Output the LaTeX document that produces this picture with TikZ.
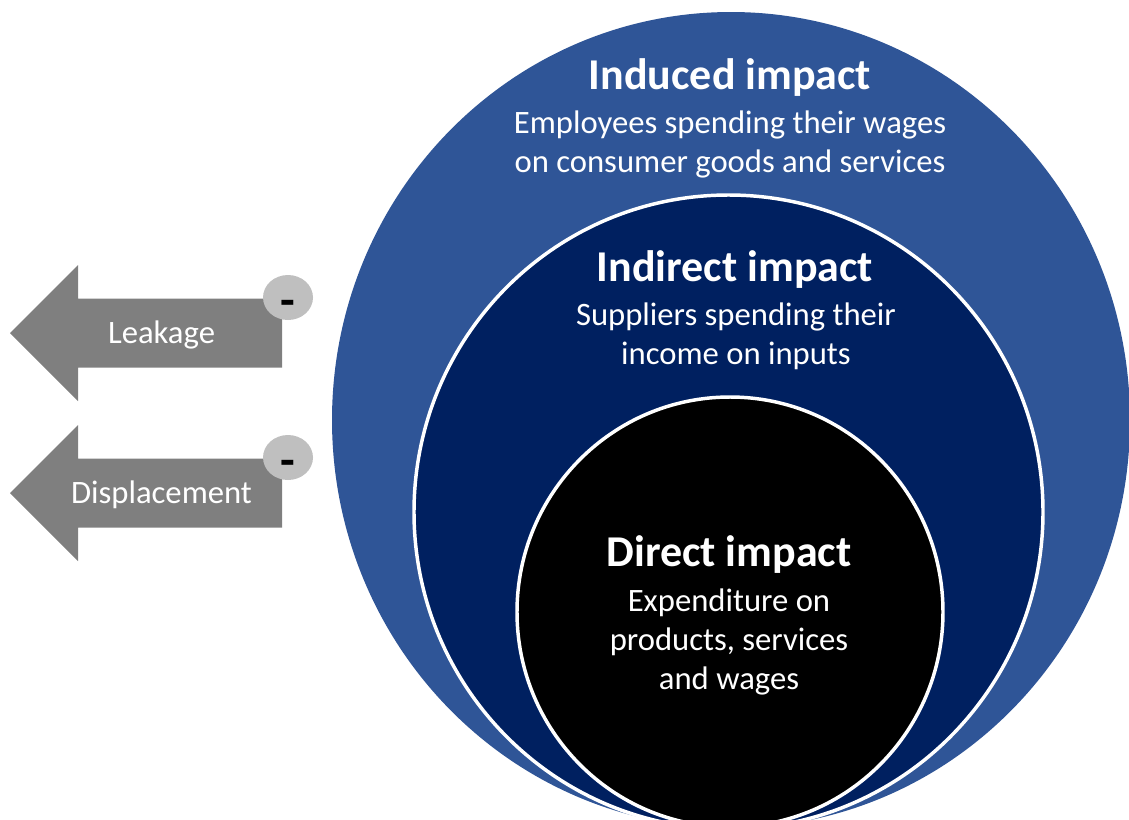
\documentclass[tikz,border=0pt]{standalone}
\usepackage{fontspec}
\setmainfont{Carlito}
\usetikzlibrary{shapes.geometric}
\definecolor{inducedblue}{HTML}{2F5597}
\definecolor{indirectblue}{HTML}{002060}
\definecolor{arrowgrey}{HTML}{7F7F7F}
\definecolor{badgegrey}{HTML}{BFBFBF}

\begin{document}
\begin{tikzpicture}
	[x=0.75pt,y=-0.75pt,
	title/.style={text=white,font=\fontsize{33}{40}\selectfont\bfseries},
	body/.style={text=white,align=center,font=\fontsize{24.5}{29.3}\selectfont},
	ring/.style={draw=white,line width=2.6pt},
	flow/.style={fill=arrowgrey},
	badge/.style={ellipse,fill=badgegrey,minimum width=37.5pt,minimum height=33.75pt,inner sep=0pt},
	minus/.style={font=\fontsize{36}{36}\selectfont\bfseries,inner sep=0pt}]
	\useasboundingbox (0,0) rectangle (1129,819);
	
	% nested impact circles
	\begin{scope}
		\clip (0,0) rectangle (1129,819);
		\fill[inducedblue] (731,420) ellipse [x radius=399, y radius=408];
		\filldraw[ring,fill=indirectblue] (728.5,512) ellipse [x radius=314.5, y radius=317];
		\filldraw[ring,fill=black] (730,612) ellipse [x radius=213, y radius=215];
	\end{scope}
	
	\node[title] (induced) at (730,78) {Induced impact};
	\node[body] (inducedtxt) at (730,144) {Employees spending their wages\\on consumer goods and services};
	\node[title] (indirect) at (735,270) {Indirect impact};
	\node[body] (indirecttxt) at (736,336) {Suppliers spending their\\income on inputs};
	\node[title] (direct) at (729,555) {Direct impact};
	\node[body] (directtxt) at (729,642) {Expenditure on\\products, services\\and wages};
	
	% negative effects
	\foreach \y/\name/\label in {333/leak/Leakage,493/disp/Displacement}{
		\fill[flow] (282,\y-34.5) -- (78,\y-34.5) -- (78,\y-68) -- (10,\y) -- (78,\y+68) -- (78,\y+34.5) -- (282,\y+34.5) -- cycle;
		\node[body] (\name) at (161.5,\y+2) {\label};
		\node[badge] (\name badge) at (288,\y-35.5) {};
		\node[minus] (\name minus) at (288,\y-25) {-};
	}
\end{tikzpicture}
\end{document}
